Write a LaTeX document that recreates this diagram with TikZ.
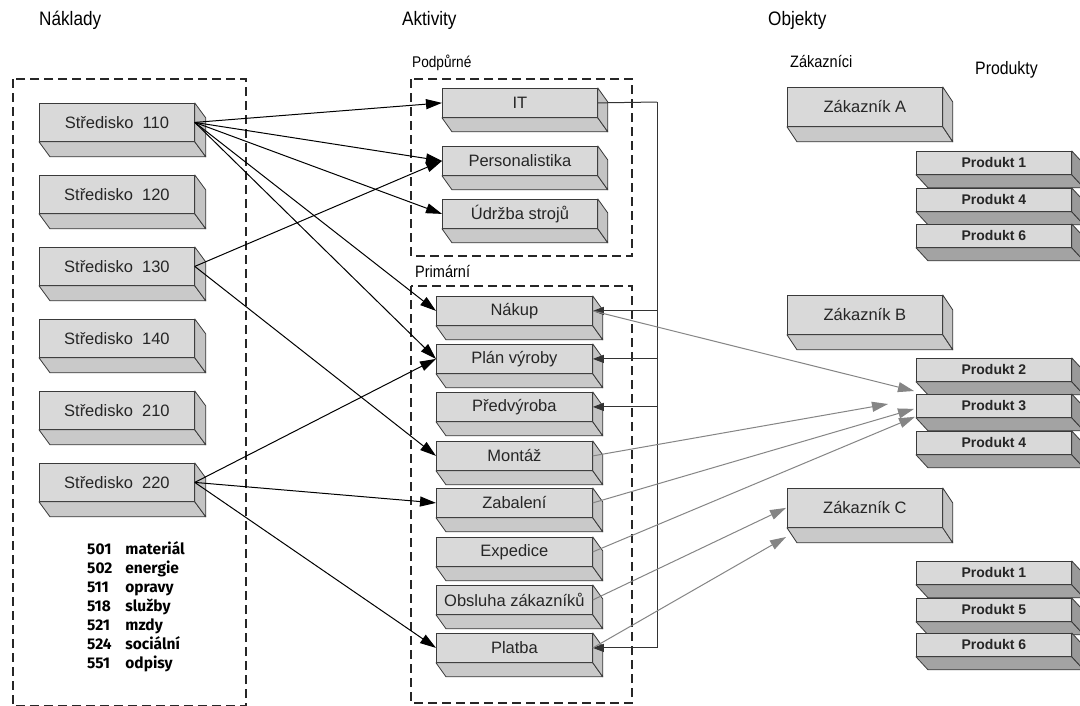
\documentclass[tikz,border=0pt]{standalone}
\usepackage{fontspec}
\setmainfont{Liberation Sans}
\newfontfamily\narrowfont{Liberation Sans}[FakeStretch=0.88]
\newfontfamily\legendfont{Fira Sans}
\usetikzlibrary{arrows.meta}
\definecolor{frontc}{HTML}{D9D9D9}
\definecolor{botc}{HTML}{C9C9C9}
\definecolor{sidec}{HTML}{C4C4C4}
\definecolor{pbotc}{HTML}{A3A3A3}
\definecolor{psidec}{HTML}{999999}
\definecolor{edgec}{HTML}{3A3A3A}
\definecolor{grayln}{HTML}{858585}
\tikzset{
  box/.style={draw=edgec,line width=0.8pt,fill=frontc,inner sep=0pt,rectangle,
    font=\fontsize{16.5}{19}\selectfont,text=black!85},
  pbox/.style={font=\fontsize{14}{16}\selectfont\bfseries},
  facedraw/.style={draw=edgec,line width=0.8pt,line join=round},
  frame/.style={draw=black!85,line width=1.7pt,dash pattern=on 9pt off 5pt},
  blackarrow/.style={draw=black,line width=1pt,-{Triangle[length=16pt,width=10pt]}},
  busln/.style={draw=black!80,line width=1pt},
  busarrow/.style={draw=black!80,line width=1pt,-{Triangle[length=11pt,width=8pt]}},
  grayarrow/.style={draw=grayln,line width=1pt,-{Triangle[length=16pt,width=10pt]},color=grayln},
  head/.style={font=\narrowfont\fontsize{19.5}{22}\selectfont,anchor=west,inner sep=0pt},
  sub/.style={font=\narrowfont\fontsize{15.5}{17}\selectfont,anchor=west,inner sep=0pt},
}
\newcommand\cube[7][]{%
  \node[box,#1,minimum width=#5pt,minimum height=#6pt,anchor=north west] (#2) at (#3,#4) {#7};
  \filldraw[facedraw,fill=\botcol] (#2.south west) -- (#2.south east) -- ++(\ddx,\ddy)
     -- ([shift={(\ddx,\ddy)}]#2.south west) -- cycle;
  \filldraw[facedraw,fill=\sidecol] (#2.north east) -- ++(\ddx,\ddy)
     -- ([shift={(\ddx,\ddy)}]#2.south east) -- (#2.south east) -- cycle;
}
\begin{document}
\begin{tikzpicture}[x=1pt,y=-1pt]
\useasboundingbox[fill=white] (0,0) rectangle (1080,705);

% headers
\node[head] (hnak) at (39,20) {Náklady};
\node[head] (hakt) at (402,20) {Aktivity};
\node[head] (hobj) at (768,20) {Objekty};
\node[sub] (hpod) at (412,63) {Podpůrné};
\node[sub,font=\narrowfont\fontsize{16.5}{18}\selectfont] (hpri) at (415,271) {Primární};
\node[sub,font=\narrowfont\fontsize{16.5}{18}\selectfont] (hzak) at (790,62) {Zákazníci};
\node[sub,font=\narrowfont\fontsize{18}{20}\selectfont] (hpro) at (975,70) {Produkty};

% frames
\draw[frame] (13,79) rectangle (246,706);
\draw[frame] (411,79) rectangle (632,256);
\draw[frame] (411,286) rectangle (632,703);

% cost centres
\def\ddx{11}\def\ddy{15}\def\botcol{botc}\def\sidecol{sidec}
\cube{s110}{39}{103}{155}{38}{Středisko\ \ 110}
\cube{s120}{39}{175}{155}{38}{Středisko\ \ 120}
\cube{s130}{39}{247}{155}{38}{Středisko\ \ 130}
\cube{s140}{39}{319}{155}{38}{Středisko\ \ 140}
\cube{s210}{39}{391}{155}{38}{Středisko\ \ 210}
\cube{s220}{39}{463}{155}{38}{Středisko\ \ 220}

% legend
\node[anchor=north west,inner sep=0pt,align=left,font=\legendfont\bfseries\fontsize{15.5}{18.8}\selectfont] (legend) at (87,541)
{\begin{tabular}{@{}l@{\hspace{13pt}}l@{}}
501 & materiál\\[0.2pt]
502 & energie\\[0.2pt]
511 & opravy\\[0.2pt]
518 & služby\\[0.2pt]
521 & mzdy\\[0.2pt]
524 & sociální\\[0.2pt]
551 & odpisy
\end{tabular}};

% activities
\def\ddx{10}\def\ddy{14}
\cube{it}{442}{88}{155}{29}{IT}
\cube{pers}{442}{146}{155}{29}{Personalistika}
\cube{udr}{442}{199}{155}{29}{Údržba strojů}
\cube{nakup}{436}{296}{156}{29}{Nákup}
\cube{plan}{436}{344}{156}{29}{Plán výroby}
\cube{pred}{436}{392}{156}{29}{Předvýroba}
\cube{mont}{436}{441}{156}{29}{Montáž}
\cube{zab}{436}{488}{156}{29}{Zabalení}
\cube{exp}{436}{537}{156}{29}{Expedice}
\cube{obs}{436}{585}{156}{29}{Obsluha zákazníků}
\cube{plat}{436}{633}{156}{29}{Platba}

% customers
\def\ddx{10}\def\ddy{15}
\cube{za}{787}{87}{155}{39}{Zákazník A}
\cube{zb}{787}{295}{155}{39}{Zákazník B}
\cube{zc}{787}{488}{155}{39}{Zákazník C}

% products
\def\ddx{12}\def\ddy{13}\def\botcol{pbotc}\def\sidecol{psidec}
\cube[pbox]{a1}{916}{151}{155}{23}{Produkt 1}
\cube[pbox]{a4}{916}{188}{155}{23}{Produkt 4}
\cube[pbox]{a6}{916}{224}{155}{23}{Produkt 6}
\cube[pbox]{b2}{916}{358}{155}{23}{Produkt 2}
\cube[pbox]{b3}{916}{394}{155}{23}{Produkt 3}
\cube[pbox]{b4}{916}{431}{155}{23}{Produkt 4}
\cube[pbox]{c1}{916}{561}{155}{23}{Produkt 1}
\cube[pbox]{c5}{916}{598}{155}{23}{Produkt 5}
\cube[pbox]{c6}{916}{633}{155}{23}{Produkt 6}

% cost centre -> activity arrows
\draw[blackarrow] (s110.east) -- (it.west);
\draw[blackarrow] (s110.east) -- (pers.west);
\draw[blackarrow] (s110.east) -- (udr.west);
\draw[blackarrow] (s110.east) -- (nakup.west);
\draw[blackarrow] (s110.east) -- (plan.west);
\draw[blackarrow] (s130.east) -- (pers.west);
\draw[blackarrow] (s130.east) -- (mont.west);
\draw[blackarrow] (s220.east) -- (plan.west);
\draw[blackarrow] (s220.east) -- (zab.west);
\draw[blackarrow] (s220.east) -- (plat.west);

% IT distribution bus
\coordinate (busT) at (657,102);
\draw[busln] (it.east) -- (busT);
\draw[busarrow] (busT) |- (plat.east);
\draw[busarrow] (nakup.east -| busT) -- (nakup.east);
\draw[busarrow] (plan.east -| busT) -- (plan.east);
\draw[busarrow] (pred.east -| busT) -- (pred.east);

% activity -> object arrows
\coordinate (mfree) at (888,404);
\coordinate (pfree) at (786,537);
\draw[grayarrow] (nakup.east) -- ([shift={(-2,-3)}]b3.north west);
\draw[grayarrow] (mont.east) -- (mfree);
\draw[grayarrow] (zab.east) -- ([shift={(-2,3)}]b3.west);
\draw[grayarrow] (exp.east) -- ([shift={(-1,-1)}]b3.south west);
\draw[grayarrow] (obs.east) -- ([xshift=-1pt]zc.west);
\draw[grayarrow] (plat.east) -- (pfree);
\end{tikzpicture}
\end{document}
